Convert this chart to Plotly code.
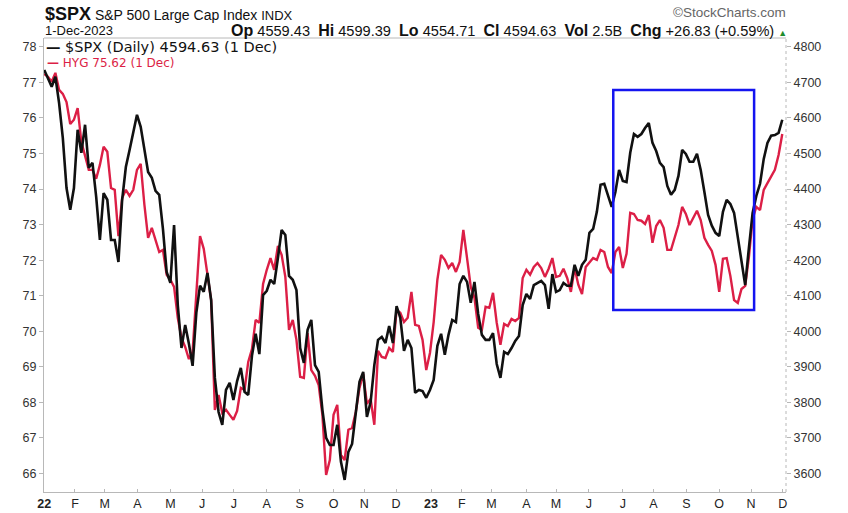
import pandas as pd
import plotly.graph_objects as go

# ---- data (semi-weekly samples, every 3.5 days from 3 Jan 2022) ----
start_date = "2022-01-03"
n_points = 200

spx = [4735, 4710, 4688, 4716, 4642, 4544, 4403, 4342, 4403, 4567,
       4502, 4581, 4460, 4474, 4378, 4257, 4389, 4370, 4257, 4257,
       4195, 4370, 4462, 4510, 4564, 4609, 4575, 4516, 4448, 4432,
       4395, 4384, 4288, 4167, 4136, 4299, 4074, 3953, 4018, 3965,
       3903, 4052, 4128, 4111, 4164, 4088, 3869, 3773, 3737, 3835,
       3855, 3807, 3860, 3897, 3830, 3821, 3931, 3993, 3936, 4102,
       4114, 4145, 4133, 4206, 4285, 4271, 4156, 4145, 4116, 3953,
       3911, 4004, 4032, 3905, 3886, 3779, 3700, 3680, 3680, 3737,
       3633, 3582, 3661, 3683, 3773, 3858, 3886, 3759, 3801, 3905,
       3976, 3984, 3967, 4015, 3967, 4071, 4038, 3945, 3976, 3953,
       3827, 3835, 3832, 3813, 3835, 3863, 3959, 3993, 3934, 3990,
       4032, 4026, 4133, 4156, 4139, 4080, 4139, 4049, 3990, 3976,
       3976, 3995, 3908, 3869, 3942, 3936, 3953, 3973, 3987, 4074,
       4105, 4091, 4130, 4136, 4142, 4130, 4063, 4161, 4111, 4116,
       4136, 4128, 4128, 4187, 4156, 4187, 4201, 4277, 4288, 4336,
       4412, 4415, 4384, 4350, 4392, 4454, 4423, 4420, 4502, 4555,
       4547, 4555, 4572, 4586, 4530, 4507, 4474, 4462, 4409, 4384,
       4398, 4437, 4510, 4499, 4477, 4477, 4499, 4454, 4392, 4327,
       4297, 4277, 4268, 4336, 4370, 4358, 4333, 4263, 4206, 4130,
       4235, 4333, 4381, 4415, 4485, 4530, 4550, 4552, 4558, 4595]

hyg = [77.24, 77.16, 77.02, 77.27, 76.79, 76.68, 76.45, 75.83, 75.95, 76.28,
       75.33, 74.93, 74.54, 74.54, 74.29, 74.68, 75.19, 75.05, 74.03, 73.98,
       72.68, 73.75, 73.98, 73.81, 73.98, 74.54, 74.71, 73.56, 72.63, 72.91,
       72.57, 72.23, 72.29, 71.59, 71.45, 71.25, 70.38, 69.81, 69.56, 69.22,
       69.42, 71.16, 72.68, 72.32, 71.64, 70.88, 67.79, 68.21, 67.70, 67.79,
       67.65, 67.51, 67.76, 68.41, 68.35, 69.14, 69.50, 70.32, 70.24, 71.33,
       71.73, 72.06, 71.73, 72.40, 72.15, 71.53, 70.04, 70.32, 69.76, 68.72,
       68.69, 69.95, 68.91, 68.75, 68.49, 67.65, 65.96, 66.38, 67.65, 67.93,
       66.52, 66.38, 67.23, 67.28, 67.73, 68.41, 68.80, 67.96, 68.10, 67.37,
       69.45, 69.28, 69.25, 69.53, 69.42, 70.60, 70.52, 70.26, 70.38, 71.11,
       70.18, 70.15, 69.76, 68.91, 69.39, 70.26, 71.45, 72.15, 72.01, 71.78,
       71.92, 71.67, 71.95, 72.85, 72.06, 71.25, 70.94, 70.10, 70.04, 70.69,
       70.66, 71.08, 70.24, 69.62, 70.21, 70.15, 70.35, 70.29, 70.38, 71.50,
       71.73, 71.59, 71.81, 71.92, 71.78, 71.53, 71.76, 72.06, 71.53, 71.56,
       71.76, 71.50, 71.11, 71.78, 71.31, 71.05, 71.81, 71.92, 72.06, 72.01,
       72.29, 72.23, 71.81, 71.64, 72.23, 72.37, 71.78, 72.18, 73.33, 73.30,
       73.13, 73.11, 73.02, 73.27, 72.49, 72.96, 73.13, 72.91, 72.29, 72.29,
       72.63, 72.99, 73.50, 73.30, 72.99, 73.19, 73.39, 73.13, 72.63, 72.43,
       72.26, 71.87, 71.11, 72.04, 72.06, 71.56, 70.88, 70.80, 71.19, 71.28,
       72.09, 73.16, 73.50, 73.41, 73.98, 74.17, 74.34, 74.54, 74.96, 75.55]

month_ticks = ["2022-01-03", "2022-02-01", "2022-03-01", "2022-04-01", "2022-05-02",
               "2022-06-01", "2022-07-01", "2022-08-01", "2022-09-01", "2022-10-03",
               "2022-11-01", "2022-12-01", "2023-01-03", "2023-02-01", "2023-03-01",
               "2023-04-03", "2023-05-01", "2023-06-01", "2023-07-03", "2023-08-01",
               "2023-09-01", "2023-10-02", "2023-11-01", "2023-12-01"]
month_labels = ["<b>22</b>", "F", "M", "A", "M", "J", "J", "A", "S", "O", "N", "D",
                "<b>23</b>", "F", "M", "A", "M", "J", "J", "A", "S", "O", "N", "D"]

left_ticks = [66, 67, 68, 69, 70, 71, 72, 73, 74, 75, 76, 77, 78]
right_ticks = [3600, 3700, 3800, 3900, 4000, 4100, 4200, 4300, 4400, 4500, 4600, 4700, 4800]

box_dates = ["2023-06-24 00:00", "2023-11-03 22:00"]
box_hyg = [70.60, 76.79]

dates = pd.date_range(start_date, periods=n_points, freq="84h")

BLACK = "#111111"
RED = "#dc1f46"
AX = "#b8b8b8"
TXT = "#333333"
FONT = "Liberation Sans, Arial, sans-serif"

fig = go.Figure()
fig.add_trace(go.Scatter(x=dates, y=hyg, mode="lines", yaxis="y",
                         line=dict(color=RED, width=2.4), name="HYG"))
fig.add_trace(go.Scatter(x=dates, y=spx, mode="lines", yaxis="y2",
                         line=dict(color=BLACK, width=2.6), name="$SPX"))

fig.update_layout(
    width=848, height=513,
    margin=dict(l=44, r=62, t=38, b=21),
    paper_bgcolor="white", plot_bgcolor="white",
    showlegend=False,
    font=dict(family=FONT, size=12, color=TXT),
    xaxis=dict(type="date", range=["2022-01-02 18:00", "2023-12-04 00:15"],
               tickvals=month_ticks, ticktext=month_labels, automargin=False,
               showgrid=False, zeroline=False, showline=True, linecolor=AX,
               linewidth=1, ticks="inside", ticklen=3, tickcolor=AX,
               tickfont=dict(size=12.5, color="#222222", family=FONT)),
    yaxis=dict(range=[65.48, 78.25], tickvals=left_ticks, showgrid=False,
               zeroline=False, showline=True, linecolor=AX, linewidth=1,
               ticks="outside", ticklen=4, tickcolor=AX, automargin=False,
               tickfont=dict(size=12.5, color=TXT, family=FONT)),
    yaxis2=dict(range=[3548, 4825], tickvals=right_ticks, overlaying="y",
                side="right", showgrid=False, zeroline=False, showline=False,
                ticks="outside", ticklen=4, tickcolor=AX, automargin=False,
                tickfont=dict(size=12.5, color=TXT, family=FONT)),
)

# borders: top solid, right dotted
fig.add_shape(type="line", xref="paper", yref="paper", x0=0, x1=1, y0=1, y1=1,
              line=dict(color=AX, width=1))
fig.add_shape(type="line", xref="paper", yref="paper", x0=1, x1=1, y0=0, y1=1,
              line=dict(color=AX, width=1, dash="dot"))

# highlight box
fig.add_shape(type="rect", xref="x", yref="y",
              x0=box_dates[0], x1=box_dates[1], y0=box_hyg[0], y1=box_hyg[1],
              line=dict(color="#1414f0", width=2.5), fillcolor="rgba(0,0,0,0)")

def px_x(p):
    return (p - 44) / 742.0

def px_y(p):
    return (492 - p) / 454.0

# header
fig.add_annotation(xref="paper", yref="paper", x=px_x(43), y=px_y(14),
                   xanchor="left", yanchor="middle", showarrow=False,
                   text="<b><span style='font-size:18px'>$SPX</span></b> "
                        "<span style='font-size:14px'>S&amp;P 500 Large Cap Index</span> "
                        "<span style='font-size:13px'>INDX</span>",
                   font=dict(family=FONT, size=14, color="#111111"))
fig.add_annotation(xref="paper", yref="paper", x=px_x(43), y=px_y(31),
                   xanchor="left", yanchor="middle", showarrow=False,
                   text="1-Dec-2023", font=dict(family=FONT, size=13, color="#111111"))
fig.add_annotation(xref="paper", yref="paper", x=px_x(789), y=px_y(31),
                   xanchor="right", yanchor="middle", showarrow=False,
                   text="<b><span style='font-size:16px'>Op</span></b> 4559.43  "
                        "<b><span style='font-size:16px'>Hi</span></b> 4599.39  "
                        "<b><span style='font-size:16px'>Lo</span></b> 4554.71  "
                        "<b><span style='font-size:16px'>Cl</span></b> 4594.63  "
                        "<b><span style='font-size:16px'>Vol</span></b> 2.5B  "
                        "<b><span style='font-size:16px'>Chg</span></b> +26.83 (+0.59%) "
                        "<span style='font-size:9px;color:#1e8c2e'>▲</span>",
                   font=dict(family=FONT, size=14.6, color="#111111"))
fig.add_annotation(xref="paper", yref="paper", x=px_x(788), y=px_y(13),
                   xanchor="right", yanchor="middle", showarrow=False,
                   text="©StockCharts.com", font=dict(family=FONT, size=13.5, color="#666666"))

# legend
fig.add_annotation(xref="paper", yref="paper", x=px_x(44), y=px_y(47),
                   xanchor="left", yanchor="middle", showarrow=False,
                   text="<b>—</b> $SPX (Daily) 4594.63 (1 Dec)",
                   font=dict(family="DejaVu Sans, sans-serif", size=14.5, color="#111111"))
fig.add_annotation(xref="paper", yref="paper", x=px_x(45), y=px_y(63),
                   xanchor="left", yanchor="middle", showarrow=False,
                   text="<b>—</b> HYG 75.62 (1 Dec)",
                   font=dict(family="DejaVu Sans, sans-serif", size=12, color=RED))

fig.write_html("out.html")
